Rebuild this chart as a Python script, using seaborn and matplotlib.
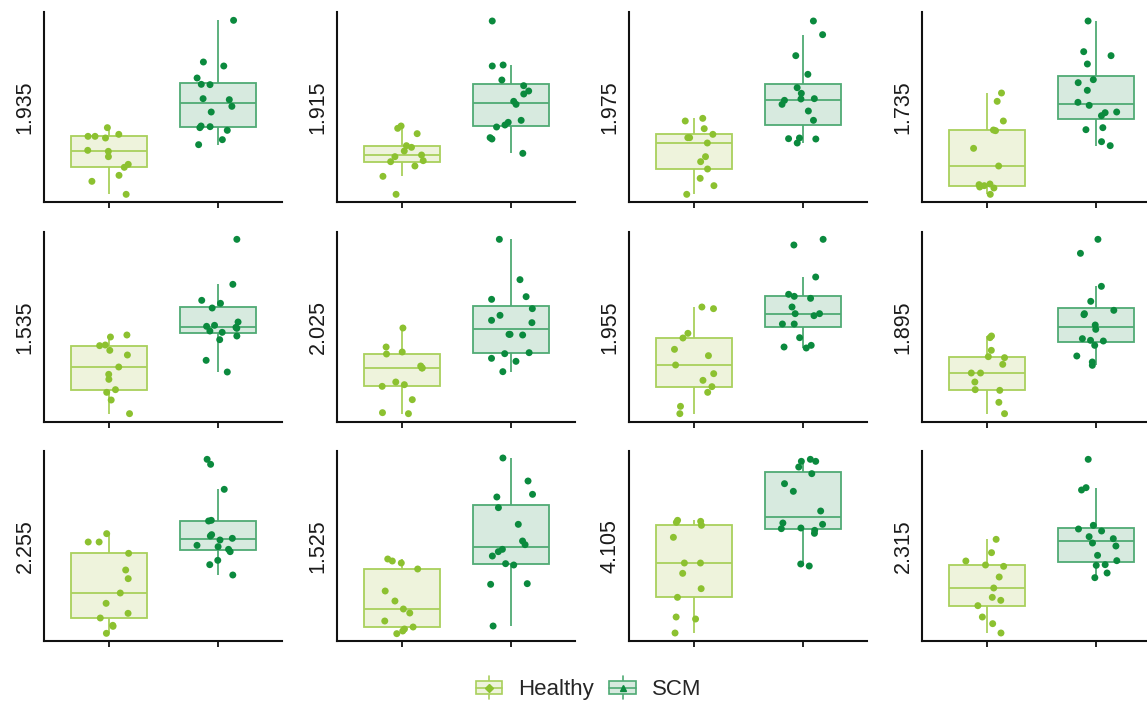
import numpy as np
import pandas as pd
import matplotlib
matplotlib.use("Agg")
import matplotlib.pyplot as plt
import seaborn as sns
from matplotlib.legend_handler import HandlerBase
from matplotlib.patches import Rectangle
from matplotlib.lines import Line2D

# ---- data -------------------------------------------------------------
groups = ["Healthy", "SCM"]
feature_labels = ["1.935", "1.915", "1.975", "1.735",
                  "1.535", "2.025", "1.955", "1.895",
                  "2.255", "1.525", "4.105", "2.315"]

healthy_1 = [197, 197, 223, 203, 192, 152, 155, 136, 113, 104, 80, 62, 23]
scm_1 = [545, 420, 408, 372, 353, 352, 310, 307, 287, 270, 226, 228, 223, 215, 187, 172]
healthy_2 = [228, 221, 205, 164, 169, 153, 141, 124, 136, 121, 108, 77, 23]
scm_2 = [543, 411, 408, 366, 349, 333, 324, 302, 293, 231, 225, 239, 245, 189, 193, 146]
healthy_3 = [243, 251, 220, 203, 193, 193, 177, 136, 121, 99, 71, 49, 23]
scm_3 = [543, 502, 439, 383, 343, 326, 305, 293, 310, 309, 273, 245, 192, 177, 190, 189]
healthy_4 = [327, 302, 243, 216, 214, 161, 108, 45, 49, 52, 54, 42, 23]
scm_4 = [543, 451, 439, 414, 367, 358, 335, 299, 290, 268, 270, 259, 217, 223, 181, 169]
healthy_5 = [255, 261, 231, 229, 215, 201, 165, 143, 128, 97, 89, 66, 25]
scm_5 = [548, 413, 365, 356, 342, 284, 273, 281, 287, 290, 300, 269, 258, 247, 185, 150]
healthy_6 = [282, 210, 225, 204, 168, 162, 162, 120, 107, 112, 67, 25, 28]
scm_6 = [548, 427, 368, 376, 340, 320, 305, 298, 261, 263, 263, 208, 205, 191, 182, 151]
healthy_7 = [345, 340, 266, 252, 218, 199, 171, 145, 125, 106, 89, 47, 25]
scm_7 = [548, 531, 435, 383, 377, 371, 345, 319, 325, 325, 294, 294, 253, 225, 222, 230]
healthy_8 = [253, 258, 215, 193, 196, 173, 147, 147, 120, 95, 97, 59, 25]
scm_8 = [548, 506, 407, 362, 335, 322, 325, 291, 278, 250, 245, 243, 230, 198, 180, 170]
healthy_9 = [322, 297, 297, 263, 213, 187, 144, 113, 83, 69, 44, 47, 23]
scm_9 = [545, 530, 455, 360, 362, 319, 315, 308, 303, 287, 275, 283, 268, 242, 229, 198]
healthy_10 = [246, 240, 234, 216, 150, 120, 96, 84, 60, 42, 36, 30, 22]
scm_10 = [549, 480, 440, 432, 400, 350, 300, 289, 275, 268, 255, 232, 228, 172, 170, 45]
healthy_11 = [359, 347, 362, 356, 311, 234, 234, 203, 157, 131, 66, 72, 24]
scm_11 = [545, 539, 539, 522, 502, 472, 449, 390, 350, 354, 337, 332, 339, 323, 225, 231]
healthy_12 = [305, 265, 240, 228, 224, 192, 159, 131, 122, 106, 72, 52, 24]
scm_12 = [545, 453, 460, 347, 336, 330, 307, 313, 285, 294, 257, 241, 229, 227, 204, 190]

healthy_sets = [healthy_1, healthy_2, healthy_3, healthy_4, healthy_5, healthy_6,
                healthy_7, healthy_8, healthy_9, healthy_10, healthy_11, healthy_12]
scm_sets = [scm_1, scm_2, scm_3, scm_4, scm_5, scm_6,
            scm_7, scm_8, scm_9, scm_10, scm_11, scm_12]

# ---- styling ----------------------------------------------------------
edge_col = {"Healthy": "#A9D05C", "SCM": "#4FAA74"}
fill_col = {"Healthy": "#EEF3DC", "SCM": "#D7EADF"}
point_col = {"Healthy": "#8CC130", "SCM": "#0B8A3E"}

sns.set_theme(style="white")
plt.rcParams["font.family"] = ["Liberation Sans", "DejaVu Sans"]

W, H = 1147, 701
fig = plt.figure(figsize=(W / 100, H / 100), dpi=100)

col_left = [44, 337, 629, 922]
row_top = [12, 232, 451]
ax_w, ax_h = 238, 190

np.random.seed(11)

for i, label in enumerate(feature_labels):
    r, c = divmod(i, 4)
    ax = fig.add_axes([col_left[c] / W, 1 - (row_top[r] + ax_h) / H, ax_w / W, ax_h / H])
    df = pd.DataFrame({
        "group": ["Healthy"] * len(healthy_sets[i]) + ["SCM"] * len(scm_sets[i]),
        "value": healthy_sets[i] + scm_sets[i],
    })
    for g in groups:
        sns.boxplot(data=df[df.group == g], x="group", y="value", order=groups,
                    color=fill_col[g], linecolor=edge_col[g], saturation=1,
                    width=0.7, showfliers=False, showcaps=False, linewidth=1.3,
                    ax=ax)
    sns.stripplot(data=df, x="group", y="value", hue="group", order=groups,
                  hue_order=groups, palette=point_col, jitter=0.2, size=5,
                  marker="o", linewidth=0, legend=False, zorder=3, ax=ax)

    ax.set_xlim(-0.596, 1.587)
    ax.set_ylim(0, 570)
    ax.set_xticks([0, 1])
    ax.set_xticklabels([])
    ax.set_yticks([])
    ax.set_xlabel("")
    ax.set_ylabel(label, fontsize=15.5, color="#1a1a1a", labelpad=6)
    for side in ("top", "right"):
        ax.spines[side].set_visible(False)
    for side in ("left", "bottom"):
        ax.spines[side].set_color("#111111")
        ax.spines[side].set_linewidth(1.5)
    ax.tick_params(axis="x", length=4, width=1.3, color="#111111", bottom=True)
    ax.set_facecolor("white")


# ---- legend with small box glyphs ------------------------------------
class BoxKey:
    def __init__(self, face, edge, point, marker):
        self.face, self.edge, self.point, self.marker = face, edge, point, marker


class BoxKeyHandler(HandlerBase):
    def create_artists(self, legend, key, xdescent, ydescent, width, height,
                       fontsize, trans):
        x0 = -xdescent
        cx = x0 + width / 2
        bh = height * 0.75
        y0 = -ydescent + (height - bh) / 2
        ym = y0 + bh / 2
        whisk = Line2D([cx, cx], [y0 - height * 0.3, y0 + bh + height * 0.3],
                       color=key.edge, lw=1.2, transform=trans)
        rect = Rectangle((x0, y0), width, bh, facecolor=key.face,
                         edgecolor=key.edge, lw=1.2, transform=trans)
        med = Line2D([x0, x0 + width], [ym, ym], color=key.edge, lw=1.2,
                     transform=trans)
        dot = Line2D([cx], [ym], marker=key.marker, color=key.point,
                     markersize=4.5, ls="none", transform=trans)
        return [whisk, rect, med, dot]


keys = [BoxKey(fill_col["Healthy"], edge_col["Healthy"], point_col["Healthy"], "D"),
        BoxKey(fill_col["SCM"], edge_col["SCM"], point_col["SCM"], "^")]
fig.legend(keys, groups, handler_map={BoxKey: BoxKeyHandler()},
           loc="center", bbox_to_anchor=(0.513, 0.016), ncol=2, frameon=False,
           fontsize=16, handlelength=1.2, handleheight=0.8,
           handletextpad=0.7, columnspacing=0.7)

fig.savefig("out.png", dpi=100, facecolor="white")
